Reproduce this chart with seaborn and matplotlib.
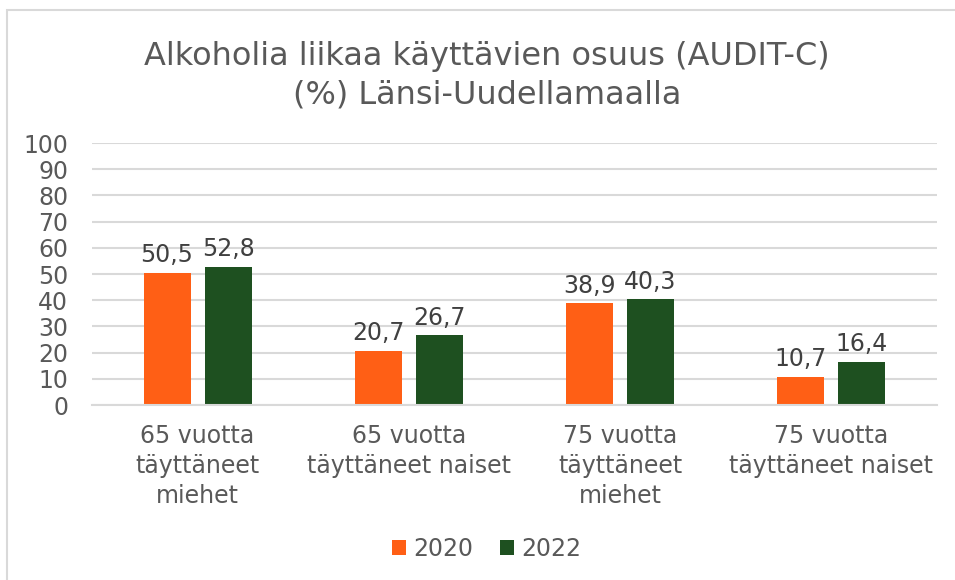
import matplotlib
matplotlib.use('Agg')
import matplotlib.pyplot as plt
from matplotlib.patches import Rectangle
import seaborn as sns
import pandas as pd

categories = ['65 vuotta\ntäyttäneet\nmiehet', '65 vuotta\ntäyttäneet naiset',
              '75 vuotta\ntäyttäneet\nmiehet', '75 vuotta\ntäyttäneet naiset']
years = ['2020', '2022']
values_2020 = [50.5, 20.7, 38.9, 10.7]
values_2022 = [52.8, 26.7, 40.3, 16.4]
colors = ['#FF5F15', '#1E5020']
text_color = '#595959'

df = pd.DataFrame({
    'category': categories * 2,
    'year': [years[0]] * 4 + [years[1]] * 4,
    'value': values_2020 + values_2022,
})

sns.set_style('white')
plt.rcParams['font.family'] = ['DejaVu Sans']

fig = plt.figure(figsize=(9.55, 5.8), dpi=100)
ax = fig.add_axes([0.0963, 0.3017, 0.8847, 0.4517])

sns.barplot(data=df, x='category', y='value', hue='year', palette=colors,
            width=0.578, gap=0.23, ax=ax, saturation=1, linewidth=0, legend=True)

for cont in ax.containers:
    ax.bar_label(cont, labels=[f'{v:.1f}'.replace('.', ',') for v in cont.datavalues],
                 padding=4, fontsize=17, color='#404040')

ax.set_ylim(0, 100)
ax.set_yticks(range(0, 101, 10))
ax.yaxis.grid(True, color='#D9D9D9', linewidth=1.5)
ax.set_axisbelow(True)
for s in ['top', 'right', 'left']:
    ax.spines[s].set_visible(False)
ax.spines['bottom'].set_color('#D9D9D9')
ax.spines['bottom'].set_linewidth(1.5)
ax.tick_params(axis='both', length=0, labelsize=17, labelcolor=text_color)
ax.tick_params(axis='x', pad=14)
ax.tick_params(axis='y', pad=17)
for lab in ax.get_xticklabels():
    lab.set_linespacing(1.3)
ax.set_xlabel('')
ax.set_ylabel('')

ax.legend(loc='center', bbox_to_anchor=(0.467, -0.55), ncol=2, frameon=False,
          fontsize=17, labelcolor=text_color, handlelength=0.6, handleheight=0.6,
          handletextpad=0.3, columnspacing=1.1)

fig.suptitle('Alkoholia liikaa käyttävien osuus (AUDIT-C)\n(%) Länsi-Uudellamaalla',
             x=0.51, y=0.93, fontsize=23, color=text_color, linespacing=1.35)

# chart frame
fig.patches.append(Rectangle((7 / 955, -0.1), 1.2, 1 - 10 / 580 + 0.1, transform=fig.transFigure,
                             fill=False, edgecolor='#D9D9D9', linewidth=1.5))

fig.savefig('out.png', dpi=100)
